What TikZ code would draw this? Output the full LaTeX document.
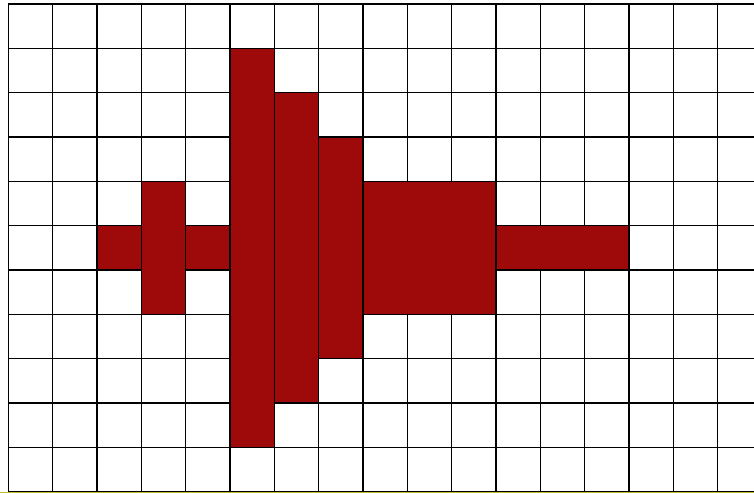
\documentclass[tikz,border=0pt]{standalone}
\definecolor{barred}{RGB}{158,10,10}
\definecolor{edgeolive}{RGB}{190,190,40}
\tikzset{
  gridline/.style={draw=black, line width=0.9pt},
  barbox/.style={fill=barred, draw=black, line width=0.9pt},
}
\begin{document}
\begin{tikzpicture}
\useasboundingbox (-0.19,0.09) rectangle (16.82,-11.03);
\fill[white] (-0.19,0.09) rectangle (16.82,-11.03);
% grid
\foreach \r in {0,...,11} \draw[gridline] (0,-\r) -- (16.82,-\r);
\foreach \c in {0,...,16} \draw[gridline] (\c,0) -- (\c,-11);
% bars
\draw[barbox] (2,-5) rectangle (3,-6);
\draw[barbox] (3,-4) rectangle (4,-7);
\draw[barbox] (4,-5) rectangle (5,-6);
\draw[barbox] (5,-1) rectangle (6,-10);
\draw[barbox] (6,-2) rectangle (7,-9);
\draw[barbox] (7,-3) rectangle (8,-8);
\draw[barbox] (8,-4) rectangle (11,-7);
\draw[barbox] (11,-5) rectangle (14,-6);
% bottom edge
\draw[edgeolive, line width=0.8pt] (-0.19,-11.015) -- (16.82,-11.015);
\end{tikzpicture}
\end{document}
